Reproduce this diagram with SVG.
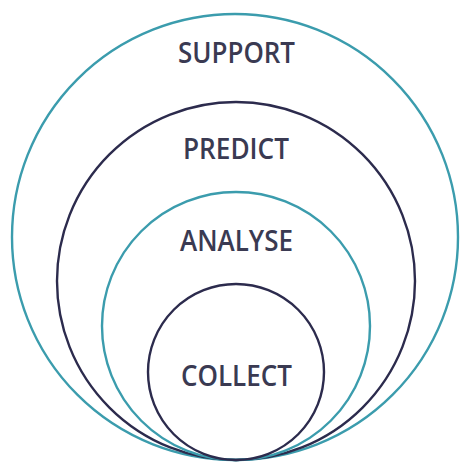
<svg xmlns="http://www.w3.org/2000/svg" width="461" height="463" viewBox="0 0 461 463">
<style>
.teal{fill:none;stroke:#3b9cad;stroke-width:2.4}
.navy{fill:none;stroke:#2c2b4d;stroke-width:2.4}
.lbl{font-family:"Open Sans","Liberation Sans",Arial,sans-serif;font-weight:600;font-size:28px;fill:#3a3a52;text-anchor:middle}
</style>
<rect width="461" height="463" fill="#ffffff"/>
<g id="support"><circle class="teal" cx="235" cy="237" r="223"/><text class="lbl" x="236.5" y="63" textLength="117" lengthAdjust="spacingAndGlyphs">SUPPORT</text></g>
<g id="predict"><circle class="navy" cx="236" cy="281" r="179"/><text class="lbl" x="236" y="159" textLength="106" lengthAdjust="spacingAndGlyphs">PREDICT</text></g>
<g id="analyse"><circle class="teal" cx="236" cy="326" r="134"/><text class="lbl" x="236.5" y="251" textLength="113" lengthAdjust="spacingAndGlyphs">ANALYSE</text></g>
<g id="collect"><circle class="navy" cx="236" cy="372" r="88"/><text class="lbl" x="236.5" y="386" textLength="111" lengthAdjust="spacingAndGlyphs">COLLECT</text></g>
<g id="connectors"/>
</svg>
